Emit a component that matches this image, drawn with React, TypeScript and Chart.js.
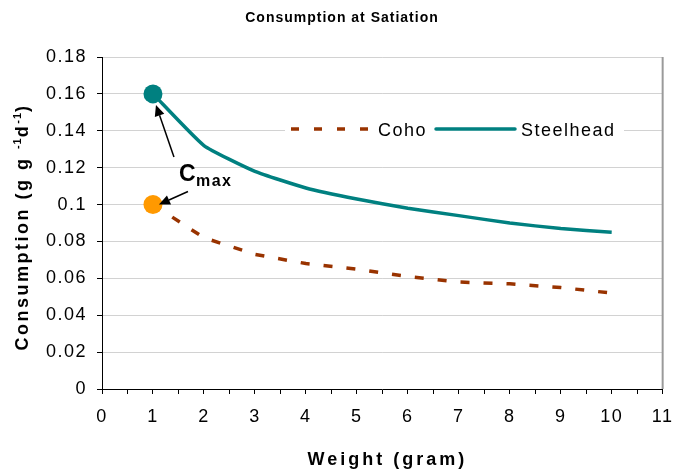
import React, { useEffect, useRef } from 'react';
import { Chart, registerables } from 'chart.js';

Chart.register(...registerables);

// ---- data ----
const weights = [1, 2, 3, 4, 5, 6, 7, 8, 9, 10];
const cohoValues = [0.1, 0.082, 0.073, 0.068, 0.065, 0.061, 0.058, 0.057, 0.055, 0.052];
const steelheadValues = [0.16, 0.132, 0.118, 0.109, 0.103, 0.098, 0.094, 0.09, 0.087, 0.085];
const seriesNames = ['Coho', 'Steelhead'];
const chartTitle = 'Consumption at Satiation';
const xAxisTitle = 'Weight (gram)';
const yAxisTitleParts = [
  { text: 'Consumption (g g ', sup: false },
  { text: '-1', sup: true },
  { text: 'd', sup: false },
  { text: '-1', sup: true },
  { text: ')', sup: false },
];
const annotationMain = 'C';
const annotationSub = 'max';
const xMin = 0;
const xMax = 11;
const yMin = 0;
const yMax = 0.18;

const TEAL = '#008080';
const BROWN = '#993300';
const ORANGE = '#FF9900';
const FONT = 'Arial, "Liberation Sans", sans-serif';

function setSpacing(ctx: any, px: number) {
  try {
    ctx.letterSpacing = px + 'px';
  } catch (e) {}
}

function arrow(ctx: CanvasRenderingContext2D, x0: number, y0: number, x1: number, y1: number) {
  const ang = Math.atan2(y1 - y0, x1 - x0);
  const headLen = 11;
  const headW = 5;
  const bx = x1 - headLen * Math.cos(ang);
  const by = y1 - headLen * Math.sin(ang);
  ctx.strokeStyle = '#000';
  ctx.lineWidth = 1.5;
  ctx.beginPath();
  ctx.moveTo(x0, y0);
  ctx.lineTo(bx, by);
  ctx.stroke();
  ctx.fillStyle = '#000';
  ctx.beginPath();
  ctx.moveTo(x1, y1);
  ctx.lineTo(bx + headW * Math.sin(ang), by - headW * Math.cos(ang));
  ctx.lineTo(bx - headW * Math.sin(ang), by + headW * Math.cos(ang));
  ctx.closePath();
  ctx.fill();
}

const decorPlugin = {
  id: 'decor',
  beforeDraw(chart: any) {
    setSpacing(chart.ctx, 1.5);
  },
  afterDatasetsDraw(chart: any) {
    const ctx = chart.ctx as CanvasRenderingContext2D;
    const area = chart.chartArea;
    const xs = chart.scales.x;
    const ys = chart.scales.y;
    ctx.save();

    // right border of plot area
    ctx.strokeStyle = '#9a9a9a';
    ctx.lineWidth = 2;
    ctx.beginPath();
    ctx.moveTo(area.right, area.top);
    ctx.lineTo(area.right, area.bottom);
    ctx.stroke();

    // legend
    const ly = 129;
    ctx.fillStyle = '#fff';
    ctx.fillRect(285, 119, 339, 21);
    ctx.strokeStyle = BROWN;
    ctx.lineWidth = 3.5;
    ctx.setLineDash([8, 15]);
    ctx.beginPath();
    ctx.moveTo(291, ly);
    ctx.lineTo(371, ly);
    ctx.stroke();
    ctx.setLineDash([]);
    ctx.strokeStyle = TEAL;
    ctx.lineCap = 'round';
    ctx.beginPath();
    ctx.moveTo(436, ly);
    ctx.lineTo(515, ly);
    ctx.stroke();
    ctx.lineCap = 'butt';
    ctx.fillStyle = '#000';
    ctx.font = '18px ' + FONT;
    ctx.textAlign = 'left';
    ctx.textBaseline = 'alphabetic';
    setSpacing(ctx, 1.5);
    ctx.fillText(seriesNames[0], 378, 136);
    ctx.fillText(seriesNames[1], 521, 136);

    // Cmax annotation with arrows to the first points
    const sx = xs.getPixelForValue(weights[0]);
    const sy = ys.getPixelForValue(steelheadValues[0]);
    const cy = ys.getPixelForValue(cohoValues[0]);
    ctx.font = 'bold 23px ' + FONT;
    setSpacing(ctx, 0);
    ctx.fillText(annotationMain, sx + 26, sy + 87);
    ctx.font = 'bold 16px ' + FONT;
    setSpacing(ctx, 1.5);
    ctx.fillText(annotationSub, sx + 43, sy + 92);
    arrow(ctx, sx + 21, sy + 63, sx + 3, sy + 11);
    arrow(ctx, sx + 35, cy - 13, sx + 6, cy);

    ctx.restore();
  },
  afterDraw(chart: any) {
    const ctx = chart.ctx as CanvasRenderingContext2D;
    const area = chart.chartArea;
    ctx.save();
    ctx.fillStyle = '#000';
    ctx.textBaseline = 'alphabetic';

    // chart title
    ctx.font = 'bold 14px ' + FONT;
    setSpacing(ctx, 1);
    ctx.textAlign = 'center';
    ctx.fillText(chartTitle, 342, 22);

    // x axis title
    ctx.font = 'bold 18px ' + FONT;
    setSpacing(ctx, 3);
    ctx.fillText(xAxisTitle, (area.left + area.right) / 2 + 5, 465);

    // y axis title (rotated, with superscripts)
    ctx.textAlign = 'left';
    const mainFont = 'bold 18px ' + FONT;
    const supFont = 'bold 11px ' + FONT;
    let total = 0;
    const widths: number[] = [];
    for (const p of yAxisTitleParts) {
      ctx.font = p.sup ? supFont : mainFont;
      setSpacing(ctx, p.sup ? 1 : 2.5);
      const w = ctx.measureText(p.text).width;
      widths.push(w);
      total += w;
    }
    ctx.translate(28, 227);
    ctx.rotate(-Math.PI / 2);
    let x = -total / 2;
    yAxisTitleParts.forEach((p, i) => {
      ctx.font = p.sup ? supFont : mainFont;
      setSpacing(ctx, p.sup ? 1 : 2.5);
      ctx.fillText(p.text, x, p.sup ? -7 : 0);
      x += widths[i];
    });
    ctx.restore();
    setSpacing(ctx, 0);
  },
};

export default function App() {
  const ref = useRef<HTMLCanvasElement | null>(null);

  useEffect(() => {
    if (!ref.current) return;
    const chart = new Chart(ref.current, {
      type: 'line',
      data: {
        datasets: [
          {
            label: seriesNames[0],
            data: weights.map((w, i) => ({ x: w, y: cohoValues[i] })),
            borderColor: BROWN,
            borderWidth: 3.5,
            borderDash: [9, 14],
            pointRadius: weights.map((_, i) => (i === 0 ? 9.5 : 0)),
            pointBackgroundColor: ORANGE,
            pointBorderWidth: 0,
            pointBorderColor: ORANGE,
            tension: 0,
            fill: false,
          },
          {
            label: seriesNames[1],
            data: weights.map((w, i) => ({ x: w, y: steelheadValues[i] })),
            borderColor: TEAL,
            borderWidth: 3.5,
            pointRadius: weights.map((_, i) => (i === 0 ? 9.5 : 0)),
            pointBackgroundColor: TEAL,
            pointBorderWidth: 0,
            pointBorderColor: TEAL,
            tension: 0.15,
            fill: false,
          },
        ],
      },
      options: {
        animation: false,
        responsive: false,
        devicePixelRatio: 1,
        layout: { padding: { top: 57, right: 15, bottom: 0, left: 0 } },
        plugins: {
          legend: { display: false },
          title: { display: false },
          tooltip: { enabled: false },
        },
        scales: {
          x: {
            type: 'linear',
            min: xMin,
            max: xMax,
            afterFit(scale: any) {
              scale.height = 81;
            },
            ticks: {
              stepSize: 0.5,
              autoSkip: false,
              maxRotation: 0,
              padding: 12,
              color: '#000',
              font: { family: FONT, size: 18 },
              callback: (v: any) => (Number.isInteger(Number(v)) ? String(v) : ''),
            },
            grid: {
              drawOnChartArea: false,
              tickLength: 5,
              tickColor: '#000',
            },
            border: { display: true, color: '#000', width: 1 },
          },
          y: {
            type: 'linear',
            min: yMin,
            max: yMax,
            afterFit(scale: any) {
              scale.width = 102;
            },
            ticks: {
              stepSize: 0.02,
              padding: 10,
              color: '#000',
              font: { family: FONT, size: 18 },
              callback: (v: any) => String(Math.round(Number(v) * 100) / 100),
            },
            grid: {
              color: '#d2d2d2',
              lineWidth: 1,
              tickLength: 5,
              tickColor: '#000',
            },
            border: { display: true, color: '#000', width: 1 },
          },
        },
      },
      plugins: [decorPlugin],
    } as any);
    return () => chart.destroy();
  }, []);

  return (
    <div style={{ position: 'fixed', left: 0, top: 0, width: 684, height: 470, background: '#fff' }}>
      <canvas ref={ref} width={684} height={470} />
    </div>
  );
}
